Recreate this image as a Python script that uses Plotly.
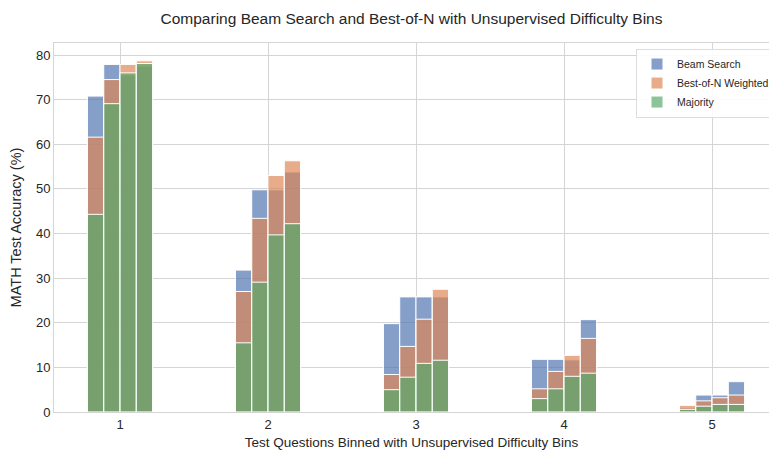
import plotly.graph_objects as go

bins = [1, 2, 3, 4, 5]
n_budgets = 4
bar_width = 0.11

# values per bin, 4 bars (budgets) each
beam_search = [
    [70.8, 77.9, 75.5, 77.5],
    [31.8, 49.8, 49.8, 53.8],
    [19.8, 25.8, 25.8, 25.8],
    [11.8, 11.8, 11.7, 20.7],
    [1.0, 3.8, 3.8, 6.8],
]
best_of_n_weighted = [
    [61.6, 74.5, 77.9, 78.7],
    [27.0, 43.4, 53.0, 56.3],
    [8.4, 14.7, 20.8, 27.5],
    [5.2, 9.1, 12.7, 16.5],
    [1.5, 2.5, 3.2, 3.8],
]
majority = [
    [44.3, 69.1, 76.0, 78.1],
    [15.5, 29.1, 39.7, 42.2],
    [5.0, 7.8, 10.9, 11.6],
    [3.0, 5.2, 8.0, 8.7],
    [0.6, 1.3, 1.7, 1.7],
]
series_names = ["Beam Search", "Best-of-N Weighted", "Majority"]
series_colors = ["rgba(76,114,176,0.68)", "rgba(221,132,82,0.68)", "rgba(85,168,104,0.68)"]

xs = []
for b in bins:
    for j in range(n_budgets):
        xs.append(b + (j - (n_budgets - 1) / 2) * bar_width)

fig = go.Figure()
for name, color, vals in zip(series_names, series_colors, [beam_search, best_of_n_weighted, majority]):
    flat = [v for row in vals for v in row]
    fig.add_trace(go.Bar(
        x=xs, y=flat, width=bar_width, name=name,
        marker=dict(color=color, line=dict(color="white", width=1)),
    ))

grid = "#d5d5d5"
fig.update_layout(
    barmode="overlay",
    width=769, height=454,
    margin=dict(l=54, r=0, t=43, b=42, autoexpand=False),
    paper_bgcolor="white", plot_bgcolor="white",
    font=dict(family="Liberation Sans, Arial, sans-serif", color="#262626", size=13),
    title=dict(text="Comparing Beam Search and Best-of-N with Unsupervised Difficulty Bins",
               x=0.5, xanchor="center", xref="paper", y=0.958, yanchor="middle",
               font=dict(size=15.5, color="#262626")),
    legend=dict(x=0.814, y=0.985, xanchor="left", yanchor="top",
                bgcolor="rgba(255,255,255,0.9)", bordercolor="#dddddd", borderwidth=1,
                font=dict(size=10.5), tracegroupgap=0),
    xaxis=dict(range=[0.554, 5.385], tickvals=bins, ticktext=[str(b) for b in bins],
               showgrid=True, gridcolor=grid, zeroline=False,
               showline=True, linecolor=grid, mirror=True, ticks="",
               title=dict(text="Test Questions Binned with Unsupervised Difficulty Bins",
                          font=dict(size=13.5), standoff=6)),
    yaxis=dict(range=[0, 82.7], tickvals=[0, 10, 20, 30, 40, 50, 60, 70, 80],
               showgrid=True, gridcolor=grid, zeroline=False,
               showline=True, linecolor=grid, ticks="",
               title=dict(text="MATH Test Accuracy (%)", font=dict(size=14.5), standoff=10)),
)

fig.write_html("out.html")
